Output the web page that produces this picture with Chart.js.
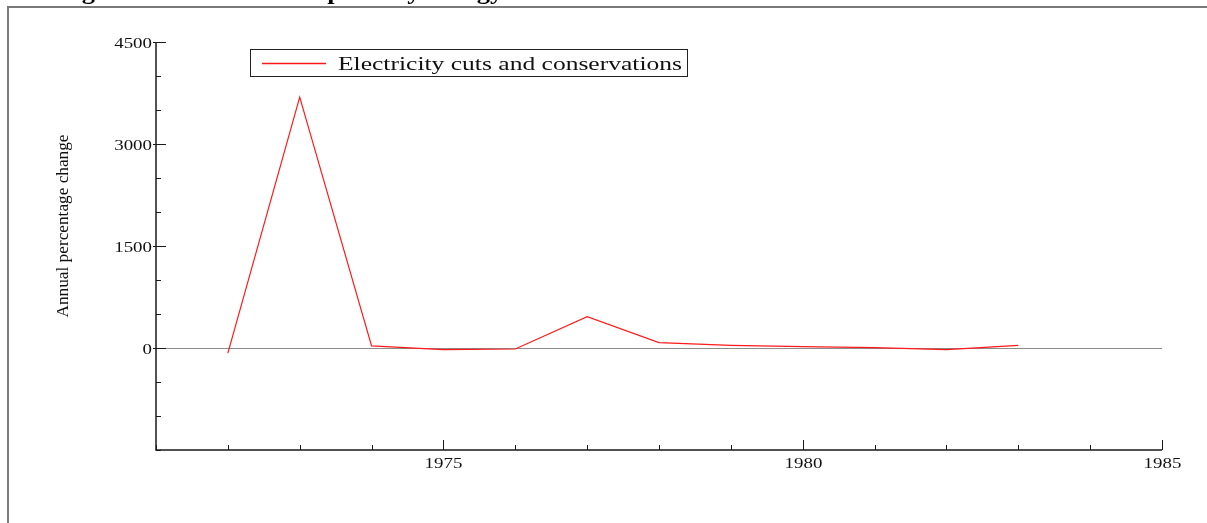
<!DOCTYPE html>
<html>
<head>
<meta charset="utf-8">
<script src="https://cdn.jsdelivr.net/npm/chart.js@4.4.1/dist/chart.umd.min.js"></script>
<style>
  html, body { margin: 0; padding: 0; background: #fff; }
  #wrap { position: relative; width: 1207px; height: 523px; }
</style>
</head>
<body>
<div id="wrap"><canvas id="myChart" width="1207" height="523"></canvas></div>
<script>
// data
const titleText = "Changes in electric consumption by energy source";
const yAxisTitle = "Annual percentage change";
const seriesLabel = "Electricity cuts and conservations";
const years = [1972, 1973, 1974, 1975, 1976, 1977, 1978, 1979, 1980, 1981, 1982, 1983];
const changes = [-75, 3690, 30, -25, -15, 460, 80, 40, 20, 5, -25, 40];
const yLabelValues = [0, 1500, 3000, 4500];
const xLabelValues = [1975, 1980, 1985];

const SERIF = "'Liberation Serif', 'Times New Roman', serif";
const STRETCH = 1.35;

// text is drawn wider than normal, like the original picture
function wideText(ctx, text, x, y, font, sx, align) {
  ctx.save();
  ctx.font = font;
  ctx.textBaseline = "alphabetic";
  const w = ctx.measureText(text).width * sx;
  let left = x;
  if (align === "right") left = x - w;
  else if (align === "center") left = x - w / 2;
  ctx.translate(left, y);
  ctx.scale(sx, 1);
  ctx.textAlign = "left";
  ctx.fillText(text, 0, 0);
  ctx.restore();
}

const decoPlugin = {
  id: "deco",
  beforeDatasetsDraw(chart) {
    const ctx = chart.ctx;
    const { x, y } = chart.scales;
    const area = chart.chartArea;
    // zero line
    const y0 = Math.round(y.getPixelForValue(0)) + 0.5;
    ctx.save();
    ctx.strokeStyle = "#8c8c8c";
    ctx.lineWidth = 1;
    ctx.beginPath();
    ctx.moveTo(area.left, y0);
    ctx.lineTo(area.right, y0);
    ctx.stroke();
    ctx.restore();
  },
  afterDraw(chart) {
    const ctx = chart.ctx;
    const { x, y } = chart.scales;
    const area = chart.chartArea;
    ctx.save();

    // frame (top and left only)
    ctx.strokeStyle = "#7a7a7a";
    ctx.lineWidth = 2;
    ctx.beginPath();
    ctx.moveTo(8, 523);
    ctx.lineTo(8, 7);
    ctx.lineTo(1207, 7);
    ctx.stroke();

    // title, cut off at the top: only descenders stay in view
    ctx.fillStyle = "#000";
    wideText(ctx, titleText, 20, -1, "bold 24px " + SERIF, 1.1, "left");

    // axes
    ctx.strokeStyle = "#1a1a1a";
    ctx.lineWidth = 1.5;
    ctx.beginPath();
    ctx.moveTo(area.left, area.top);
    ctx.lineTo(area.left, area.bottom);
    ctx.lineTo(area.right, area.bottom);
    ctx.stroke();

    // y ticks
    ctx.lineWidth = 1;
    y.ticks.forEach(t => {
      const py = Math.round(y.getPixelForValue(t.value)) + 0.5;
      const major = yLabelValues.includes(t.value);
      ctx.beginPath();
      ctx.moveTo(area.left - (major ? 3 : 0), py);
      ctx.lineTo(area.left + (major ? 10 : 5), py);
      ctx.stroke();
      if (major) {
        ctx.fillStyle = "#111";
        wideText(ctx, String(t.value), area.left - 4, py + 5, "14px " + SERIF, STRETCH, "right");
      }
    });

    // x ticks
    x.ticks.forEach(t => {
      const px = Math.round(x.getPixelForValue(t.value)) + 0.5;
      const major = xLabelValues.includes(t.value);
      ctx.beginPath();
      ctx.moveTo(px, area.bottom);
      ctx.lineTo(px, area.bottom - (major ? 10 : 5));
      ctx.stroke();
      if (major) {
        ctx.fillStyle = "#111";
        wideText(ctx, String(t.value), px, area.bottom + 18, "14px " + SERIF, STRETCH, "center");
      }
    });

    // y axis title, rotated
    ctx.save();
    ctx.translate(68, 226);
    ctx.rotate(-Math.PI / 2);
    ctx.font = "17px " + SERIF;
    ctx.textBaseline = "alphabetic";
    const tw = ctx.measureText(yAxisTitle).width;
    ctx.scale(183 / tw, 1);
    ctx.fillStyle = "#111";
    ctx.textAlign = "center";
    ctx.fillText(yAxisTitle, 0, 0);
    ctx.restore();

    // legend box
    const ds = chart.data.datasets[0];
    ctx.strokeStyle = "#222";
    ctx.lineWidth = 1;
    ctx.strokeRect(250.5, 49.5, 437, 27);
    ctx.strokeStyle = "#ff1a1a";
    ctx.lineWidth = 1.3;
    ctx.beginPath();
    ctx.moveTo(262, 63.5);
    ctx.lineTo(326, 63.5);
    ctx.stroke();
    ctx.fillStyle = "#111";
    ctx.font = "18px " + SERIF;
    const lw = ctx.measureText(ds.label).width;
    wideText(ctx, ds.label, 338, 70, "18px " + SERIF, 344 / lw, "left");

    ctx.restore();
  }
};

const points = years.map((yr, i) => ({ x: yr, y: changes[i] }));

new Chart(document.getElementById("myChart"), {
  type: "line",
  data: {
    datasets: [
      {
        label: seriesLabel,
        data: points,
        borderColor: "#ff1a1a",
        borderWidth: 1.2,
        pointRadius: 0,
        tension: 0,
        fill: false,
      },
    ],
  },
  options: {
    responsive: false,
    animation: false,
    devicePixelRatio: 1,
    layout: { padding: { top: 42, right: 45, left: 0, bottom: 0 } },
    plugins: {
      legend: { display: false },
      tooltip: { enabled: false },
    },
    scales: {
      x: {
        type: "linear",
        min: 1971,
        max: 1985,
        ticks: { stepSize: 1, display: false },
        grid: { display: false },
        border: { display: false },
        afterFit: (scale) => { scale.height = 73; },
      },
      y: {
        min: -1500,
        max: 4500,
        ticks: { stepSize: 500, display: false },
        grid: { display: false },
        border: { display: false },
        afterFit: (scale) => { scale.width = 156; },
      },
    },
  },
  plugins: [decoPlugin],
});
</script>
</body>
</html>
